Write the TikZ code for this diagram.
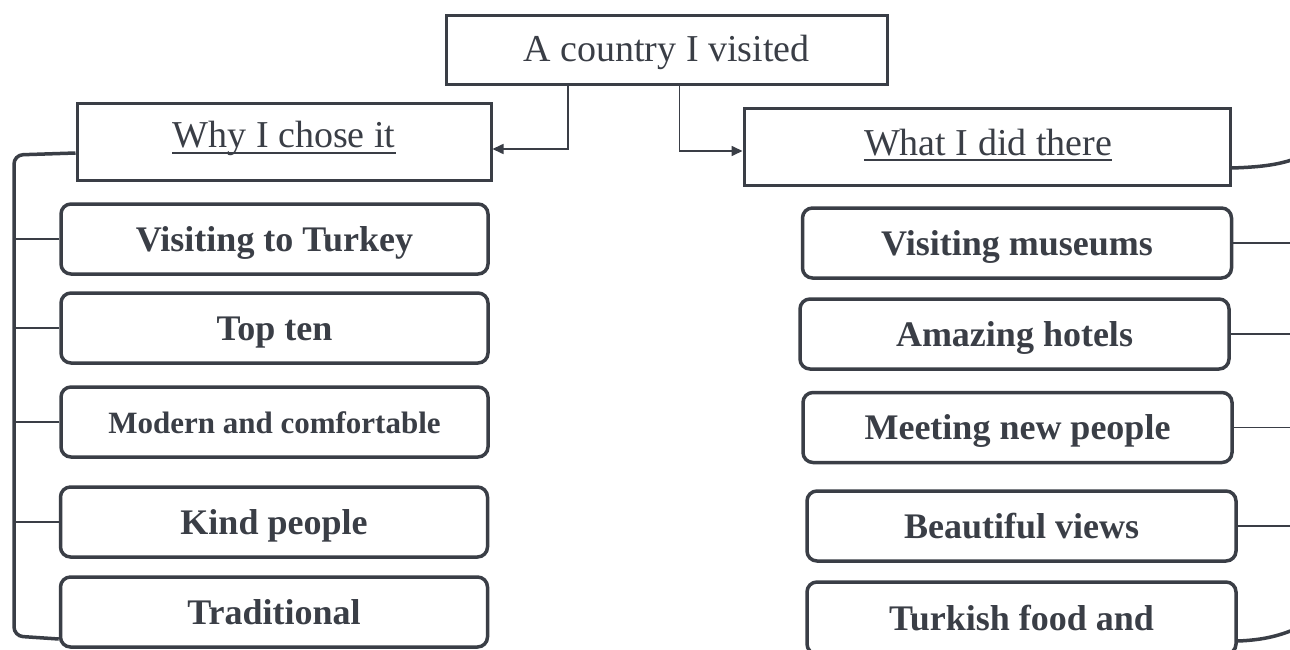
\documentclass[tikz,border=0pt]{standalone}
\usepackage{fontspec}
\setmainfont{Liberation Serif}
\usetikzlibrary{arrows.meta,calc}
\definecolor{ink}{RGB}{58,62,70}
\tikzset{
  hdr/.style={draw=ink, line width=3pt, inner sep=0pt},
  hdrtext/.style={inner sep=0pt, text=ink, font=\fontsize{38}{44}\selectfont, anchor=base},
  uline/.style={draw=ink, line width=2pt},
  item/.style={draw=ink, line width=3.5pt, rounded corners=10pt, inner sep=0pt, text=ink,
    minimum height=70pt, font=\fontsize{36}{42}\selectfont\bfseries,
    text height=24pt, text depth=0pt},
  litem/.style={item, minimum width=427pt},
  ritem/.style={item, minimum width=429pt},
  conn/.style={draw=ink, line width=1.6pt, -{Triangle[length=11pt,width=10pt]}},
  tick/.style={draw=ink, line width=1.6pt},
  brk/.style={draw=ink, line width=3.5pt},
}
\begin{document}
\begin{tikzpicture}[x=1pt,y=-1pt]
\useasboundingbox[fill=white] (0,0) rectangle (1290,650);
% headers
\node[hdr, minimum width=441pt, minimum height=69pt] (top) at (666.5,50.5) {};
\node[hdrtext] (topt) at (666.5,62) {A country I visited};
\node[hdr, minimum width=414pt, minimum height=76pt] (why) at (284,142) {};
\node[hdrtext] (whyt) at (284,148) {Why I chose it};
\draw[uline] ([yshift=-5pt]whyt.base west) -- ([yshift=-5pt]whyt.base east);
\node[hdr, minimum width=486pt, minimum height=76pt] (what) at (987,147) {};
\node[hdrtext] (whatt) at (988,155) {What I did there};
\draw[uline] ([yshift=-5pt]whatt.base west) -- ([yshift=-5pt]whatt.base east);
% left items
\node[litem] (L1) at (274.5,239) {Visiting to Turkey};
\node[litem] (L2) at (274.5,328) {Top ten};
\node[litem, font=\fontsize{31}{36}\selectfont\bfseries, text height=22pt] (L3) at (274.5,422) {Modern and comfortable};
\node[litem] (L4) at (274,522) {Kind people};
\node[litem] (L5) at (274,612) {Traditional};
% right items
\node[ritem] (R1) at (1017,243) {Visiting museums};
\node[ritem] (R2) at (1014.5,334) {Amazing hotels};
\node[ritem] (R3) at (1017.5,427.5) {Meeting new people};
\node[ritem] (R4) at (1021.5,526) {Beautiful views};
\node[ritem, minimum height=72pt] (R5) at (1021.5,618) {Turkish food and};
% connectors from the title
\draw[conn] ($(top.south)+(-98.5,0)$) |- ([yshift=-7pt]why.east);
\draw[conn] ($(top.south)+(13,0)$) |- ([yshift=-4pt]what.west);
% left bracket
\coordinate (bl) at (14,0);
\draw[brk, rounded corners=9pt] ([yshift=-11pt]why.west) -- (14,155) -- (14,636) -- ([yshift=-27pt]L5.west);
\foreach \n in {L1,L2,L3,L4} \draw[tick] (\n.west) -- (\n.west -| bl);
% right bracket
\coordinate (br) at (1300,0);
\draw[brk] ([yshift=-21pt]what.east) .. controls (1265,167) and (1282,164) .. (1300,157);
\draw[brk] ([yshift=-23pt]R5.east) .. controls (1265,640) and (1282,635) .. (1300,627);
\foreach \n in {R1,R2,R3,R4} \draw[tick] (\n.east) -- (\n.east -| br);
\end{tikzpicture}
\end{document}
